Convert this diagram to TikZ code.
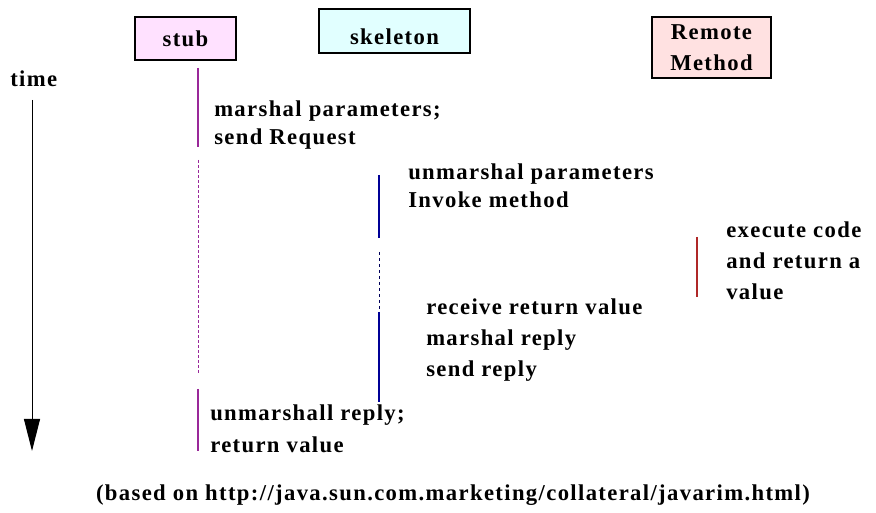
\documentclass[tikz,border=0pt]{standalone}
\usepackage{fontspec}
\setmainfont{Liberation Serif}[LetterSpace=6]
\usepackage{tikz}
\usetikzlibrary {arrows.meta}
\definecolor{stubfill}{RGB}{255,225,255}
\definecolor{skelfill}{RGB}{225,255,255}
\definecolor{remfill}{RGB}{255,225,225}
\definecolor{stubline}{RGB}{153,40,153}
\definecolor{skelline}{RGB}{0,0,150}
\definecolor{remline}{RGB}{175,40,40}
\pgfmathsetmacro{\xStub}{198}
\pgfmathsetmacro{\xSkel}{379}
\pgfmathsetmacro{\xRem}{697}

\begin{document}
\begin{tikzpicture}[x=0.75pt, y=-0.75pt,
		actor/.style = {draw, line width=1.5pt, inner sep=0pt, font=\fontsize{17}{23.5}\selectfont\bfseries, align=center},
		say/.style = {anchor=base west, inner sep=0pt, align=left, font=\fontsize{17}{#1}\selectfont\bfseries},
		say/.default = 23.5]
		\useasboundingbox (0,0) rectangle (876,513);
		% objects
		\node[actor, fill=stubfill, minimum width=75.75pt, minimum height=32.25pt] (stub) at (185.5,38.5) {stub};
		\node[actor, fill=skelfill, minimum width=113.25pt, minimum height=33pt, text height=20pt, text depth=0pt] (skel) at (394.5,31) {skeleton};
		\node[actor, fill=remfill, minimum width=89.25pt, minimum height=45.75pt] (remote) at (711.5,47.5) {Remote\\Method};
		% time axis
		\node[say] (time) at (10,87) {time};
		\coordinate (t0) at (32,100);
		\coordinate (t1) at (32,451);
		\draw[line width=0.75pt, arrows = {-Triangle[length=24pt, width=12pt]}] (t0) -- (t1);
		% lifelines
		\draw[line width=1.5pt, stubline] (\xStub,68) -- (\xStub,147);
		\draw[line width=0.75pt, stubline, dash pattern=on 2.25pt off 1.5pt] (\xStub,160) -- (\xStub,373);
		\draw[line width=1.5pt, stubline] (\xStub,389) -- (\xStub,451);
		\draw[line width=1.5pt, skelline] (\xSkel,175) -- (\xSkel,238);
		\draw[line width=0.75pt, skelline!60!black, dash pattern=on 2.25pt off 2.25pt] (\xSkel,252) -- (\xSkel,310);
		\draw[line width=1.5pt, skelline] (\xSkel,312) -- (\xSkel,402);
		\draw[line width=0.9pt, remline] (\xRem,237) -- (\xRem,297);
		% steps (anchored at the last baseline)
		\node[say=21] (marshal) at (214,145) {marshal parameters;\\send Request};
		\node[say=21] (unmarshal) at (408,208) {unmarshal parameters\\Invoke method};
		\node[say] (execute) at (726,300) {execute code\\and return a\\value};
		\node[say] (receive) at (426,377) {receive return value\\marshal reply\\send reply};
		\node[say=24] (unmarshall) at (210,453) {unmarshall reply;\\return value};
		\node[say, anchor=base] (source) at (453,501) {(based on http://java.sun.com.marketing/collateral/javarim.html)};
	\end{tikzpicture}
\end{document}
